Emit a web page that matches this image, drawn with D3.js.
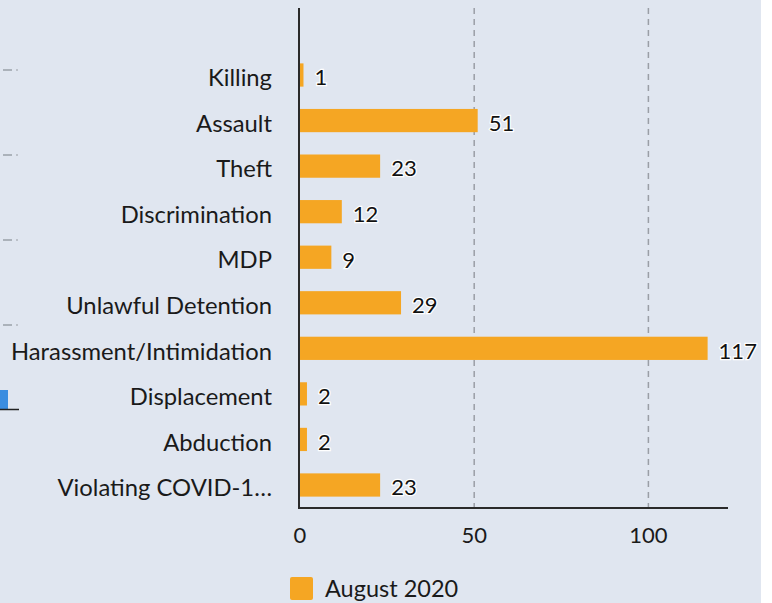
<!DOCTYPE html>
<html>
<head>
<meta charset="utf-8">
<script src="https://cdn.jsdelivr.net/npm/d3@7"></script>
<style>
  html, body { margin: 0; padding: 0; background: #fff; }
  svg { display: block; font-family: Lato, "Open Sans", sans-serif; }
</style>
</head>
<body>
<div id="chart"></div>
<script>
// categories and values (August 2020)
const categories = [
  "Killing", "Assault", "Theft", "Discrimination", "MDP",
  "Unlawful Detention", "Harassment/Intimidation", "Displacement",
  "Abduction", "Violating COVID-1\u2026"
];
const values = [1, 51, 23, 12, 9, 29, 117, 2, 2, 23];
const xTicks = [0, 50, 100];
const seriesName = "August 2020";

const width = 772, height = 603;
const bg = "#e0e6f0";
const barColor = "#f5a623";

const svg = d3.select("#chart").append("svg")
  .attr("width", width)
  .attr("height", height);

// panel background
svg.append("rect")
  .attr("width", 761).attr("height", height)
  .attr("fill", bg);

// faint remnants of the neighbouring chart on the left edge
const ghost = svg.append("g");
[70, 155, 240, 325].forEach(y => {
  ghost.append("line").attr("x1", 3).attr("x2", 12).attr("y1", y).attr("y2", y)
    .attr("stroke", "#9aa0a8").attr("stroke-width", 1.5);
  ghost.append("line").attr("x1", 16).attr("x2", 18).attr("y1", y).attr("y2", y)
    .attr("stroke", "#b0b5bc").attr("stroke-width", 1.5);
});
ghost.append("rect").attr("x", 0).attr("y", 390).attr("width", 8).attr("height", 19)
  .attr("fill", "#3b8de0");
ghost.append("line").attr("x1", 0).attr("x2", 19).attr("y1", 409.5).attr("y2", 409.5)
  .attr("stroke", "#222").attr("stroke-width", 1.5);

const margin = { left: 300, right: 44, top: 8, bottom: 95 };
const x0 = margin.left, x1 = width - margin.right;
const yTop = margin.top, yBottom = height - margin.bottom;

const x = d3.scaleLinear()
  .domain([0, d3.max(values) * 1.05])
  .range([x0, x1]);

const y = d3.scaleBand()
  .domain(categories)
  .range([yTop + 44, yBottom])
  .paddingInner(0.49)
  .paddingOuter(0.25);

// dashed gridlines
svg.append("g")
  .selectAll("line")
  .data(xTicks.filter(t => t > 0))
  .join("line")
  .attr("x1", d => x(d)).attr("x2", d => x(d))
  .attr("y1", yTop).attr("y2", yBottom)
  .attr("stroke", "#9a9ea6")
  .attr("stroke-width", 1.5)
  .attr("stroke-dasharray", "6,5");

// bars
svg.append("g")
  .selectAll("rect")
  .data(values)
  .join("rect")
  .attr("x", x(0))
  .attr("y", (d, i) => y(categories[i]))
  .attr("width", d => x(d) - x(0))
  .attr("height", y.bandwidth())
  .attr("fill", barColor);

// value labels with white halo
svg.append("g")
  .selectAll("text")
  .data(values)
  .join("text")
  .attr("x", d => x(d) + 11)
  .attr("y", (d, i) => y(categories[i]) + y.bandwidth() / 2)
  .attr("dy", "0.47em")
  .attr("font-size", 22)
  .attr("fill", "#111")
  .attr("stroke", "#fff")
  .attr("stroke-width", 2.5)
  .attr("paint-order", "stroke")
  .text(d => d);

// category labels
svg.append("g")
  .selectAll("text")
  .data(categories)
  .join("text")
  .attr("x", x0 - 28)
  .attr("y", d => y(d) + y.bandwidth() / 2)
  .attr("dy", "0.47em")
  .attr("text-anchor", "end")
  .attr("font-size", 23.8)
  .attr("fill", "#1a1a1a")
  .text(d => d);

// axes lines
svg.append("line")
  .attr("x1", x0 - 1).attr("x2", x0 - 1)
  .attr("y1", yTop).attr("y2", yBottom + 1)
  .attr("stroke", "#2a2a2a").attr("stroke-width", 2);
svg.append("line")
  .attr("x1", x0 - 1).attr("x2", x1)
  .attr("y1", yBottom).attr("y2", yBottom)
  .attr("stroke", "#2a2a2a").attr("stroke-width", 2);

// x tick labels
svg.append("g")
  .selectAll("text")
  .data(xTicks)
  .join("text")
  .attr("x", d => x(d))
  .attr("y", yBottom + 27)
  .attr("dy", "0.35em")
  .attr("text-anchor", "middle")
  .attr("font-size", 22)
  .attr("fill", "#1a1a1a")
  .text(d => d);

// legend
const legend = svg.append("g").attr("transform", `translate(290, 577)`);
legend.append("rect")
  .attr("width", 23).attr("height", 23).attr("rx", 2)
  .attr("fill", barColor);
legend.append("text")
  .attr("x", 35).attr("y", 12)
  .attr("dy", "0.35em")
  .attr("font-size", 23.5)
  .attr("fill", "#1a1a1a")
  .text(seriesName);
</script>
</body>
</html>
